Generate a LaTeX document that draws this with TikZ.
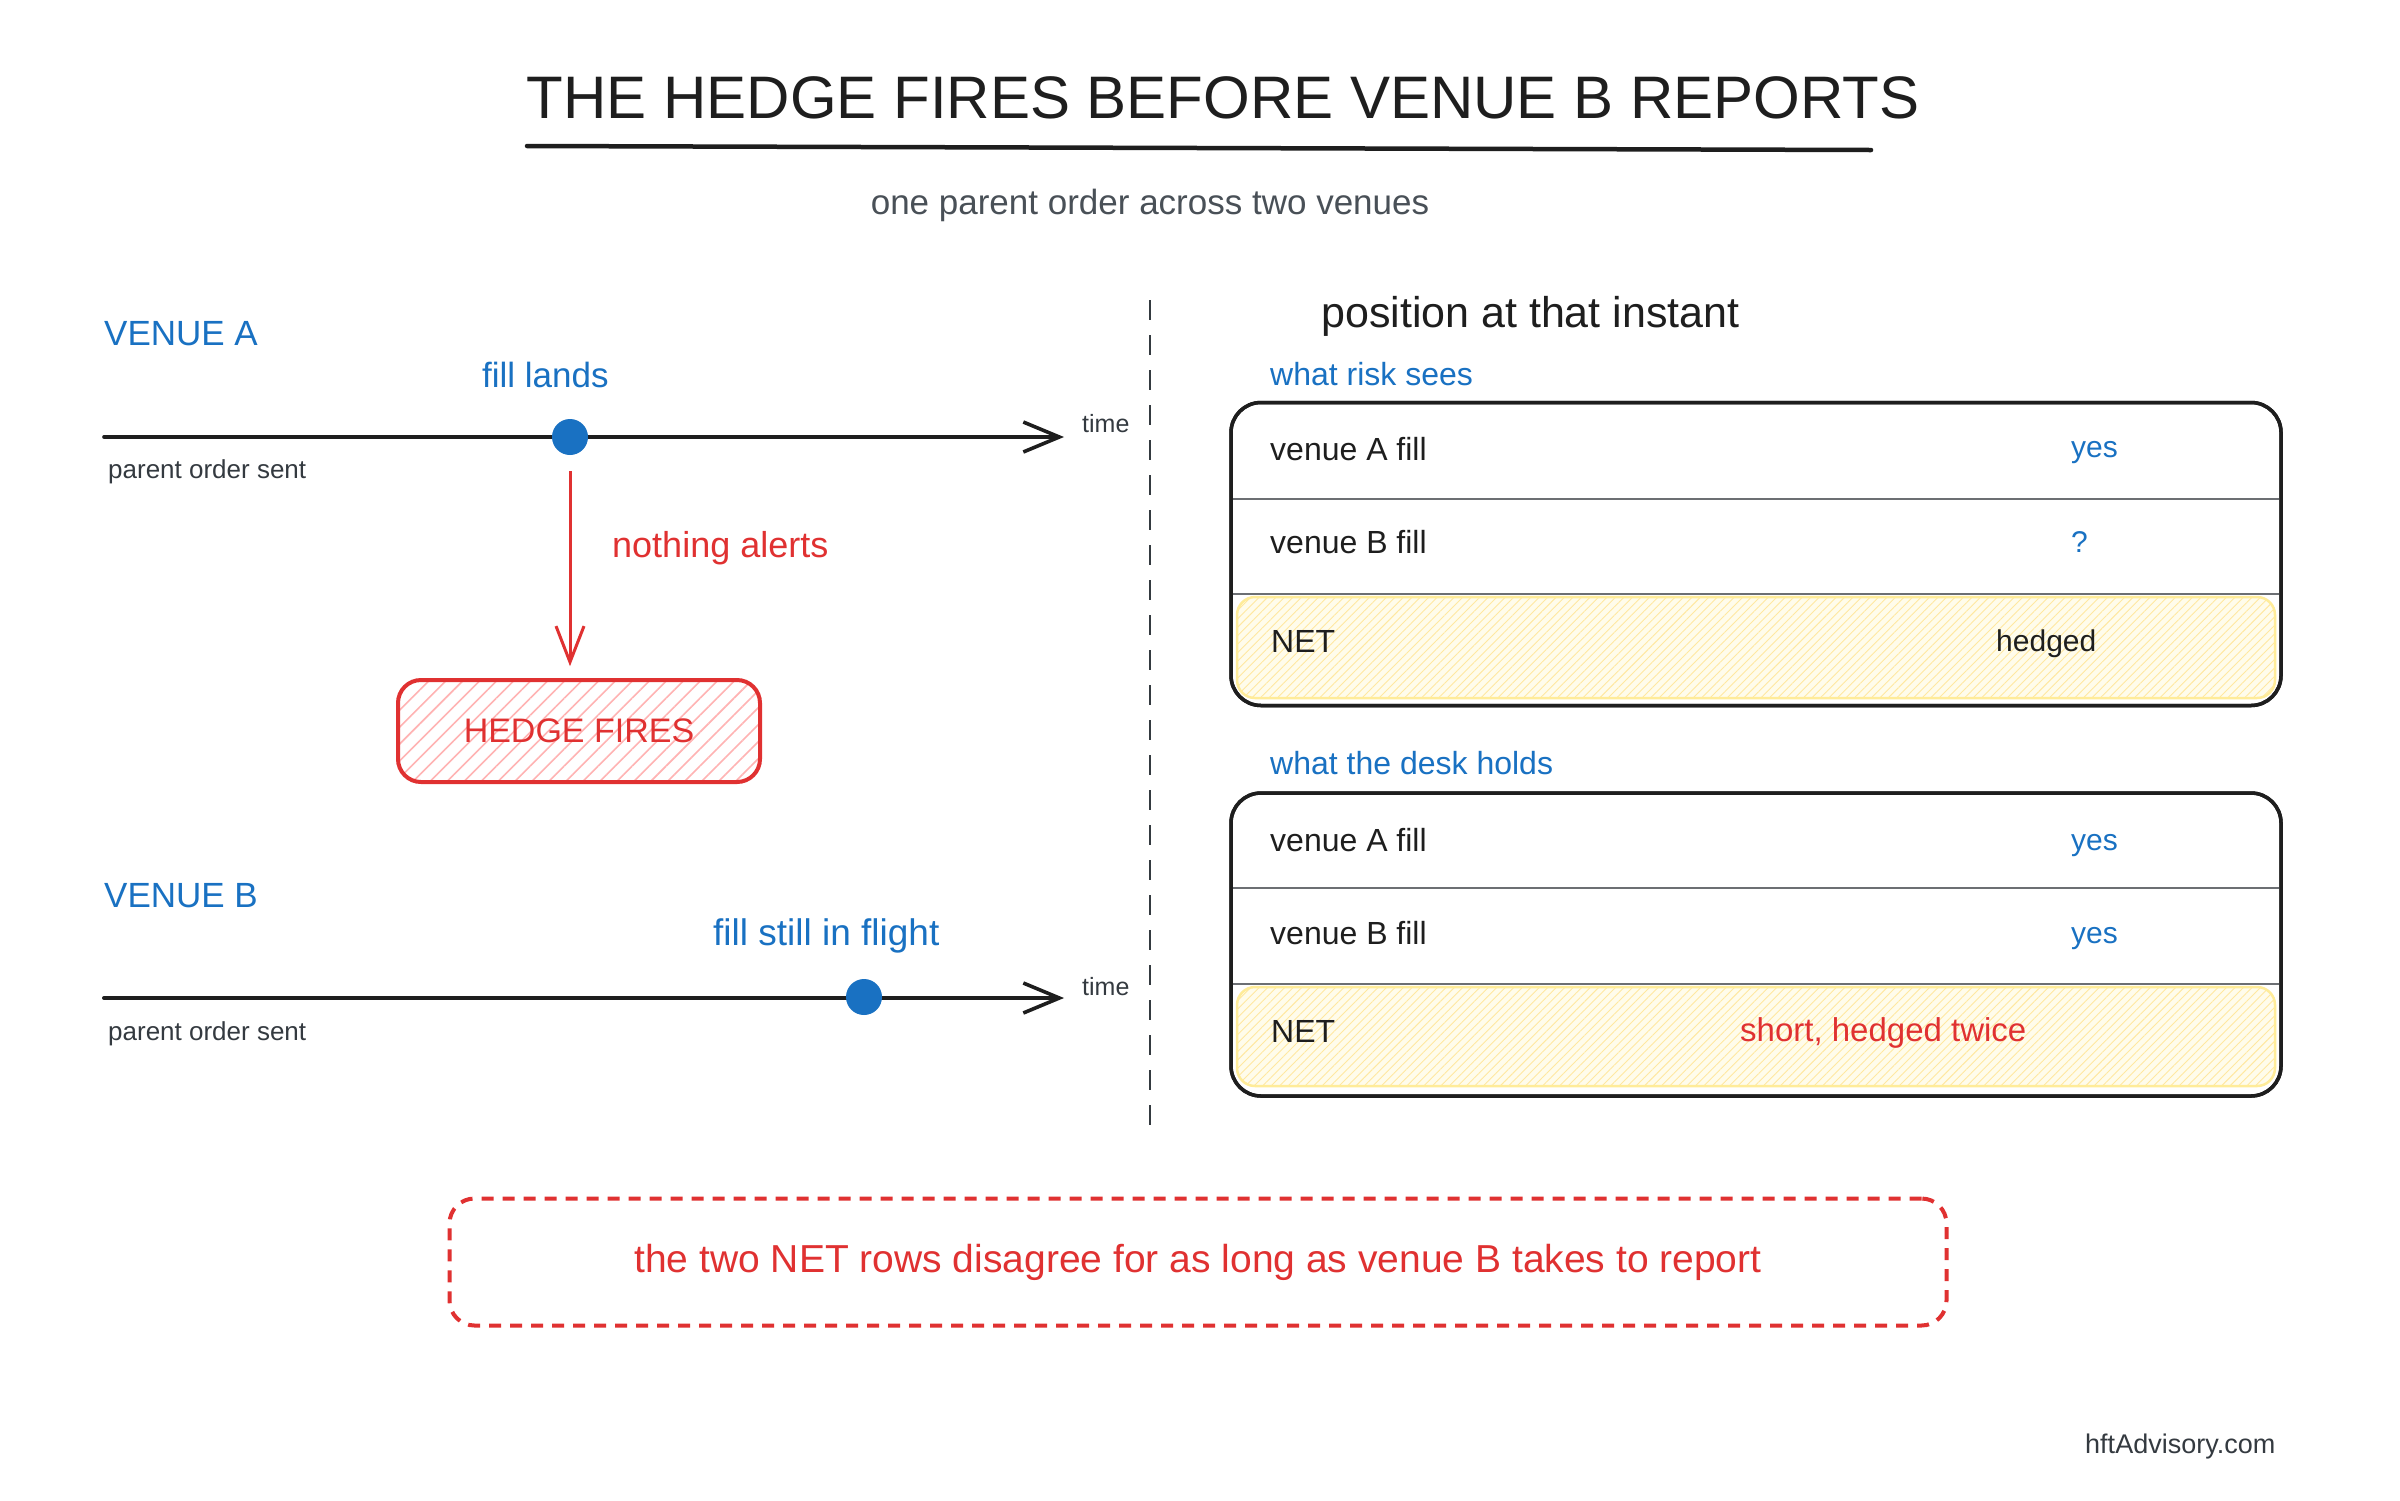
\documentclass[tikz,border=0pt]{standalone}
\usepackage{fontspec}
\setmainfont{Liberation Sans}
\usetikzlibrary{arrows.meta,patterns.meta}
\definecolor{cblue}{HTML}{1971C2}
\definecolor{cred}{HTML}{E03131}
\definecolor{cgrey}{HTML}{495057}
\definecolor{cdark}{HTML}{343A40}
\definecolor{cink}{HTML}{1E1E1E}
\definecolor{cpink}{HTML}{FFB3B3}
\definecolor{cyel}{HTML}{FFE8A0}
\definecolor{cyelbg}{HTML}{FFFCEB}
\definecolor{cyelln}{HTML}{FFEC99}
\definecolor{crule}{HTML}{6C6F73}
\newcommand\myfs[1]{\fontsize{#1}{#1}\selectfont}
\tikzset{
  txt/.style={inner sep=0pt, anchor=mid west, yshift=-5pt},
  bluetxt/.style={txt, text=cblue},
  timeline/.style={draw=cink, line width=3.6pt, line cap=round,
    -{Straight Barb[length=36pt,width=30pt,line width=3.6pt]}},
  dotnode/.style={circle, fill=cblue, inner sep=0pt, minimum size=36pt},
  redarrow/.style={draw=cred, line width=3pt,
    -{Straight Barb[length=36pt,width=28pt,line width=3pt]}},
  hedgebox/.style={draw=cred, line width=4pt, rounded corners=23pt,
    minimum width=362pt, minimum height=102pt, inner sep=0pt,
    preaction={fill=white},
    pattern={Lines[angle=45,distance=12pt,line width=1.6pt]}, pattern color=cpink},
  tablebox/.style={draw=cink, line width=3.5pt, rounded corners=30pt,
    minimum width=1050pt, minimum height=303pt, inner sep=0pt},
  netrow/.style={draw=cyelln, line width=2.5pt, rounded corners=18pt,
    preaction={fill=cyelbg},
    pattern={Lines[angle=45,distance=6pt,line width=0.9pt]}, pattern color=cyel},
  rowrule/.style={draw=crule, line width=2.5pt},
  divider/.style={draw=cdark, line width=2.2pt, dash pattern=on 20pt off 15pt},
  notebox/.style={draw=cred, line width=4pt, rounded corners=25pt,
    dash pattern=on 12pt off 9pt, minimum width=1497pt, minimum height=127pt,
    inner sep=0pt, text=cred}
}
\begin{document}
\begin{tikzpicture}[x=1pt,y=-1pt]
\useasboundingbox (0,0) rectangle (2400,1500);
\fill[white] (0,0) rectangle (2400,1500);

% title
\node[inner sep=0pt, anchor=base, text=cink] (title) at (1223,118) {\myfs{60}THE HEDGE FIRES BEFORE VENUE B REPORTS};
\coordinate (u0) at (527,146);
\coordinate (u1) at (1871,150);
\draw[draw=cink, line width=4.5pt, line cap=round] (u0) -- (u1);
\node[inner sep=0pt, anchor=mid, text=cgrey, yshift=-7pt] (subtitle) at (1150,205) {\myfs{35}one parent order across two venues};

% venue A
\node[bluetxt] (venA) at (104,338) {\myfs{35}VENUE A};
\node[bluetxt] (fillA) at (482,380) {\myfs{35}fill lands};
\coordinate (a0) at (104,437);
\coordinate (a1) at (1064,437);
\draw[timeline] (a0) -- (a1);
\node[dotnode] (dA) at (570,437) {};
\node[txt, text=cdark] (timeA) at (1082,425) {\myfs{25}time};
\node[txt, text=cdark] (sentA) at (108,471) {\myfs{26}parent order sent};

% hedge
\node[hedgebox] (hedge) at (579,731) {\myfs{34}\color{cred}HEDGE FIRES};
\draw[redarrow, shorten <=16pt, shorten >=13pt] (dA.south) -- (dA.south |- hedge.north);
\node[txt, text=cred, yshift=-4pt] (nothing) at (612,546) {\myfs{36}nothing alerts};

% venue B
\node[bluetxt] (venB) at (104,900) {\myfs{35}VENUE B};
\node[bluetxt] (fillB) at (713,938) {\myfs{37}fill still in flight};
\coordinate (b0) at (104,998);
\coordinate (b1) at (1064,998);
\draw[timeline, line width=4pt] (b0) -- (b1);
\node[dotnode] (dB) at (864,997) {};
\node[txt, text=cdark] (timeB) at (1082,988) {\myfs{25}time};
\node[txt, text=cdark] (sentB) at (108,1033) {\myfs{26}parent order sent};

% divider
\coordinate (d0) at (1150,300);
\coordinate (d1) at (1150,1130);
\draw[divider] (d0) -- (d1);

% right side
\node[txt, text=cink, yshift=-2pt] (pos) at (1321,318) {\myfs{43}position at that instant};

% table 1
\node[bluetxt] (risk) at (1270,378) {\myfs{32}what risk sees};
\node[tablebox] (t1) at (1756,554) {};
\node[netrow, minimum width=1038pt, minimum height=101pt, inner sep=0pt] (t1net) at (1756,647.5) {};
\draw[rowrule] (1233,499) -- (2279,499);
\draw[rowrule] (1233,594) -- (2279,594);
\node[tablebox] at (1756,554) {};
\node[txt, text=cink] (t1a) at (1270,453) {\myfs{32}venue A fill};
\node[txt, text=cblue] (t1ay) at (2071,450) {\myfs{30}yes};
\node[txt, text=cink] (t1b) at (1270,546) {\myfs{32}venue B fill};
\node[txt, text=cblue] (t1bq) at (2071,545) {\myfs{30}?};
\node[txt, text=cink] (t1n) at (1271,645) {\myfs{32}NET};
\node[txt, text=cink] (t1nv) at (1996,644) {\myfs{30}hedged};

% table 2
\node[bluetxt] (desk) at (1270,767) {\myfs{32}what the desk holds};
\node[tablebox] (t2) at (1756,944.5) {};
\node[netrow, minimum width=1038pt, minimum height=99pt, inner sep=0pt] (t2net) at (1756,1036.5) {};
\draw[rowrule] (1233,888) -- (2279,888);
\draw[rowrule] (1233,984) -- (2279,984);
\node[tablebox] at (1756,944.5) {};
\node[txt, text=cink] (t2a) at (1270,844) {\myfs{32}venue A fill};
\node[txt, text=cblue] (t2ay) at (2071,843) {\myfs{30}yes};
\node[txt, text=cink] (t2b) at (1270,937) {\myfs{32}venue B fill};
\node[txt, text=cblue] (t2by) at (2071,936) {\myfs{30}yes};
\node[txt, text=cink] (t2n) at (1271,1035) {\myfs{32}NET};
\node[txt, text=cred] (t2nv) at (1740,1034) {\myfs{33}short, hedged twice};

% note
\node[notebox] (note) at (1198,1262) {\myfs{39}the two NET rows disagree for as long as venue B takes to report};

\node[txt, text=cdark] (brand) at (2085,1446) {\myfs{27}hftAdvisory.com};
\end{tikzpicture}
\end{document}
